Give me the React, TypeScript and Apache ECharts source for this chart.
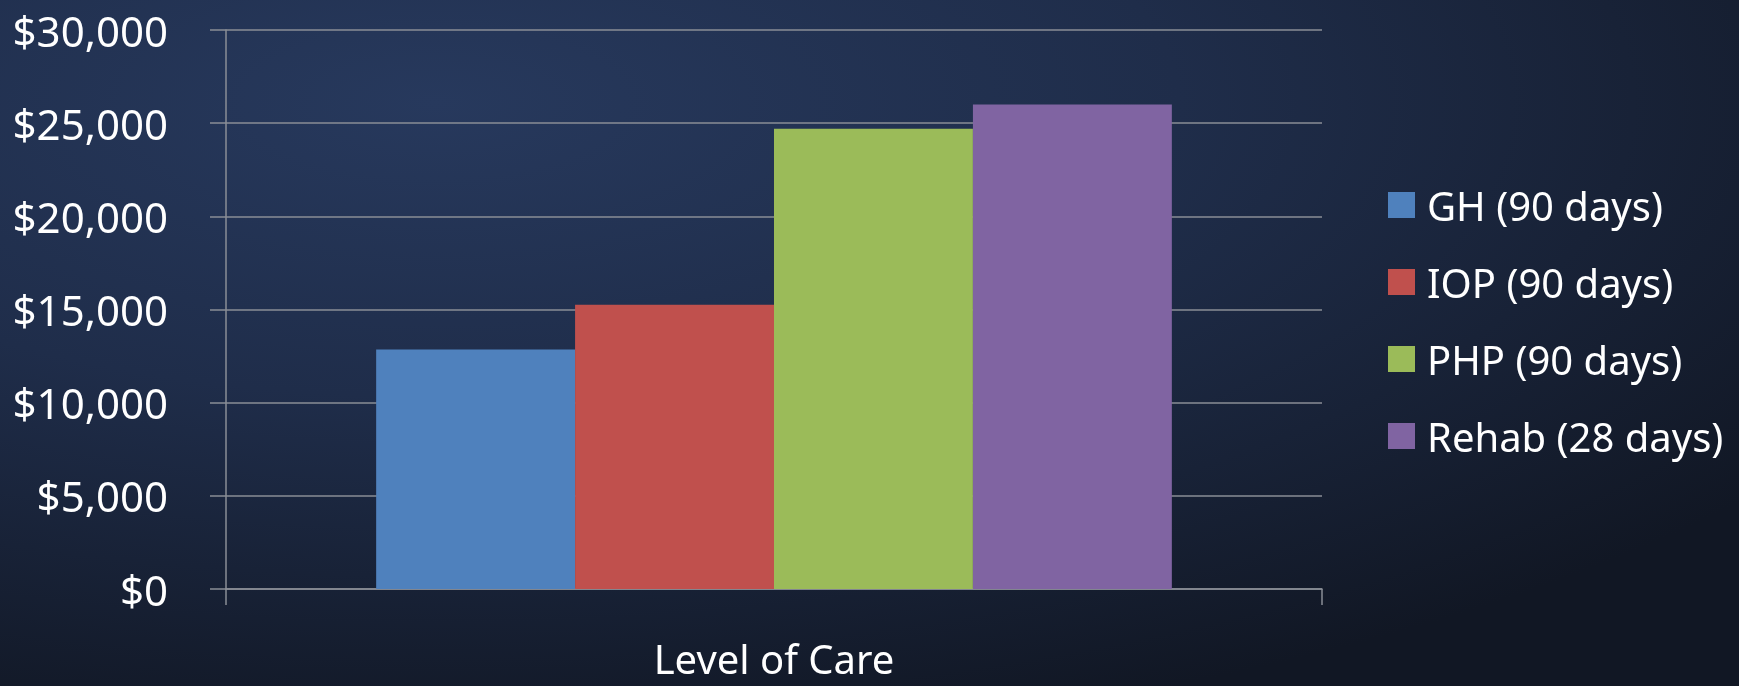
import React, { useEffect, useRef } from "react";
import * as echarts from "echarts";

const categories = ["Level of Care"];
const seriesNames = ["GH (90 days)", "IOP (90 days)", "PHP (90 days)", "Rehab (28 days)"];
const seriesValues = [12850, 15250, 24700, 26000];
const seriesColors = ["#4F81BD", "#C0504D", "#9BBB59", "#8064A2"];
const yTicks = [0, 5000, 10000, 15000, 20000, 25000, 30000];

const FONT = "'Noto Sans', sans-serif";

export default function App() {
  const ref = useRef<HTMLDivElement>(null);
  useEffect(() => {
    if (!ref.current) return;
    const chart = echarts.init(ref.current, undefined, { renderer: "svg" });
    chart.setOption({
      animation: false,
      backgroundColor: {
        type: "radial",
        x: 0.25,
        y: 0.15,
        r: 0.95,
        colorStops: [
          { offset: 0, color: "#27395d" },
          { offset: 0.45, color: "#1f2d4a" },
          { offset: 1, color: "#111724" },
        ],
      },
      textStyle: { fontFamily: FONT },
      grid: { left: 226, right: 417, top: 30, bottom: 97, containLabel: false },
      legend: {
        orient: "vertical",
        left: 1383,
        top: 176,
        itemWidth: 27,
        itemHeight: 26,
        itemGap: 29,
        icon: "rect",
        data: seriesNames,
        textStyle: {
          color: "#ffffff",
          fontSize: 40,
          lineHeight: 48,
          fontFamily: FONT,
          padding: [0, 0, 0, 7],
        },
      },
      xAxis: {
        type: "category",
        data: categories,
        boundaryGap: true,
        axisLine: { show: true, lineStyle: { color: "#8a8e96", width: 1.5 } },
        axisTick: { show: true, length: 16, lineStyle: { color: "#8a8e96", width: 1.5 } },
        axisLabel: { color: "#ffffff", fontSize: 40, lineHeight: 40, margin: 49, fontFamily: FONT },
      },
      yAxis: {
        type: "value",
        min: yTicks[0],
        max: yTicks[yTicks.length - 1],
        interval: yTicks[1] - yTicks[0],
        axisLine: { show: true, lineStyle: { color: "#8a8e96", width: 1.5 } },
        axisTick: { show: true, length: 16, lineStyle: { color: "#8a8e96", width: 1.5 } },
        splitLine: { show: true, lineStyle: { color: "#8a8e96", width: 1.5 } },
        axisLabel: {
          color: "#ffffff",
          fontSize: 42,
          margin: 58,
          fontFamily: FONT,
          formatter: (v: number) => "$" + v.toLocaleString("en-US"),
        },
      },
      series: seriesNames.map((name, i) => ({
        name,
        type: "bar",
        data: [seriesValues[i]],
        barGap: "0%",
        barCategoryGap: "27.4%",
        itemStyle: { color: seriesColors[i] },
      })),
    });
    return () => chart.dispose();
  }, []);
  return (
    <div
      ref={ref}
      style={{ position: "fixed", left: 0, top: 0, width: 1739, height: 686 }}
    />
  );
}
